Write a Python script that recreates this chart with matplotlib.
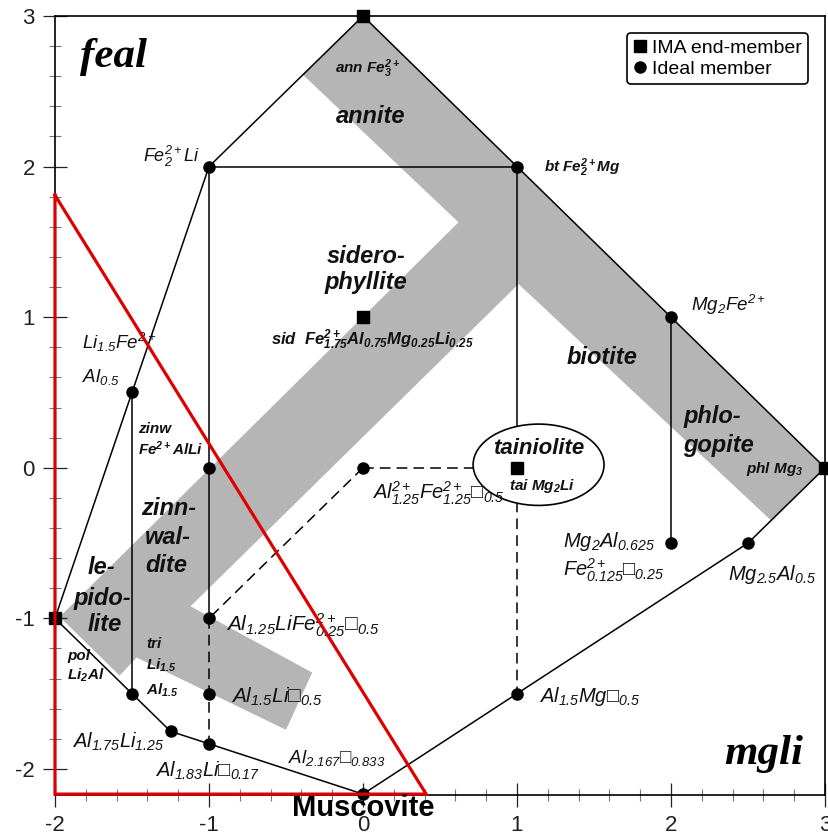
import matplotlib.pyplot as plt
from matplotlib.patches import Polygon, Ellipse
from matplotlib.lines import Line2D
from matplotlib.ticker import MultipleLocator

plt.rcParams['font.family'] = ['Liberation Sans', 'DejaVu Sans']
plt.rcParams['mathtext.fontset'] = 'custom'
plt.rcParams['mathtext.rm'] = 'Liberation Sans:italic'
plt.rcParams['mathtext.it'] = 'Liberation Sans:italic'
plt.rcParams['mathtext.bf'] = 'Liberation Sans:bold:italic'
plt.rcParams['mathtext.default'] = 'it'
plt.rcParams['axes.unicode_minus'] = False

# outer boundary of the feal - mgli field
outline_x = [-2, -1.5, -1, 0, 3, 2.5, 1, 0, -1, -1.25, -1.5, -2]
outline_y = [-1, 0.5, 2, 3, 0, -0.5, -1.5, -2.167, -1.833, -1.75, -1.5, -1]

# IMA end-members (squares) and ideal members (dots)
ima_x = [0, 0, 1, 3, -2]
ima_y = [3, 1, 0, 0, -1]
ideal_x = [-1, 1, 2, -1.5, -1, 0, 2, 2.5, -1, -1, -1.5, -1.25, -1, 0, 1]
ideal_y = [2, 2, 1, 0.5, 0, 0, -0.5, -0.5, -1, -1.5, -1.5, -1.75, -1.833, -2.167, -1.5]

# solid and dashed tie lines between members
solid_ties = [((-1, 1), (2, 2)), ((-1, -1), (2, -1)), ((1, 1), (2, 0)),
              ((-1.5, -1.5), (0.5, -1.5)), ((2, 2), (1, -0.5))]
dashed_ties = [((0, 1), (0, 0)), ((0, -1), (0, -1)), ((-1, -1), (-1, -1.833)),
               ((1, 1), (0, -1.5))]

# gray field of the common trioctahedral micas
field_x = [0, 3, 2.65, 1.01, -1.12, -0.33, -0.50, -1.47, -1.58, -1.97, 0.62, -0.39]
field_y = [3, 0, -0.35, 1.22, -0.92, -1.36, -1.74, -1.26, -1.38, -0.99, 1.63, 2.61]

# highlighted region
red_x = [-2, -2, 0.41]
red_y = [1.81, -2.167, -2.167]

fig = plt.figure(figsize=(8.29, 8.38), dpi=100)
ax = fig.add_axes([55 / 829, 43 / 838, 770 / 829, 779 / 838])
ax.set_xlim(-2, 3)
ax.set_ylim(-2.173, 3)

ax.add_patch(Polygon(list(zip(field_x, field_y)), closed=True,
                     facecolor='#b5b5b5', edgecolor='none', zorder=1))

ax.plot(outline_x, outline_y, color='black', lw=1.1, zorder=2)
for xs, ys in solid_ties:
    ax.plot(xs, ys, color='black', lw=1.1, zorder=2)
for xs, ys in dashed_ties:
    ax.plot(xs, ys, color='black', lw=1.1, ls=(0, (7, 4)), zorder=2)

ax.add_patch(Ellipse((1.14, 0.02), 0.85, 0.54, facecolor='white',
                     edgecolor='black', lw=1.2, zorder=3))

ax.plot(ideal_x, ideal_y, 'o', color='black', markersize=8, zorder=4, clip_on=False)
ax.plot(ima_x, ima_y, 's', color='black', markersize=9, zorder=4, clip_on=False)


def label(x, y, s, size=13, bold=False, ha='left', **kw):
    ax.text(x, y, s, fontsize=size, fontstyle='italic',
            fontweight='bold' if bold else 'normal', ha=ha, va='center',
            color='#111111', zorder=5, **kw)


# corner names
ax.text(-1.617, 2.73, 'feal', fontsize=31, family='Liberation Serif',
        fontstyle='italic', fontweight='bold', ha='center', va='center', zorder=5)
ax.text(2.60, -1.90, 'mgli', fontsize=31, family='Liberation Serif',
        fontstyle='italic', fontweight='bold', ha='center', va='center', zorder=5)

# mica names
label(0.05, 2.33, 'annite', 17, True, ha='center')
label(0.02, 1.40, 'sidero-', 17, True, ha='center')
label(0.02, 1.23, 'phyllite', 17, True, ha='center')
label(1.55, 0.73, 'biotite', 17, True, ha='center')
label(2.08, 0.34, 'phlo-', 17, True)
label(2.08, 0.15, 'gopite', 17, True)
label(1.14, 0.13, 'tainiolite', 16, True, ha='center')
label(-1.264, -0.27, 'zinn-', 17, True, ha='center')
label(-1.27, -0.46, 'wal-', 17, True, ha='center')
label(-1.28, -0.65, 'dite', 17, True, ha='center')
label(-1.70, -0.66, 'le-', 17, True, ha='center')
label(-1.69, -0.865, 'pido-', 17, True, ha='center')
label(-1.68, -1.04, 'lite', 17, True, ha='center')

# end-member formulae
label(0.03, 2.65, r'ann Fe$_{\mathbf{3}}^{\mathbf{2+}}$', 11, True, ha='center')
label(1.176, 1.99, r'bt Fe$_{\mathbf{2}}^{\mathbf{2+}}$Mg', 11, True)
label(-0.60, 0.85, r'sid  Fe$_{\mathbf{1.75}}^{\mathbf{2+}}$Al$_{\mathbf{0.75}}$'
      r'Mg$_{\mathbf{0.25}}$Li$_{\mathbf{0.25}}$', 12, True)
label(2.86, -0.01, r'phl Mg$_{\mathbf{3}}$', 11, True, ha='right')
label(1.165, -0.12, r'tai Mg$_{\mathbf{2}}$Li', 11, True, ha='center')
label(-1.46, 0.255, 'zinw', 11, True)
label(-1.46, 0.125, r'Fe$^{\mathbf{2+}}$AlLi', 11, True)
label(-1.92, -1.25, 'pol', 11, True)
label(-1.92, -1.38, r'Li$_{\mathbf{2}}$Al', 11, True)
label(-1.41, -1.17, 'tri', 11, True)
label(-1.41, -1.31, r'Li$_{\mathbf{1.5}}$', 11, True)
label(-1.41, -1.48, r'Al$_{\mathbf{1.5}}$', 11, True)

# ideal member formulae
label(-1.06, 2.07, r'Fe$_2^{2+}$Li', 13, ha='right')
label(2.13, 1.08, r'Mg$_2$Fe$^{2+}$', 13.5)
label(-1.825, 0.83, r'Li$_{1.5}$Fe$^{2+}$', 13.5)
label(-1.825, 0.60, r'Al$_{0.5}$', 13.5)
label(0.06, -0.17, r'Al$_{1.25}^{2+}$Fe$_{1.25}^{2+}$□$_{0.5}$', 14.5)
label(-0.89, -1.045, r'Al$_{1.25}$LiFe$_{0.25}^{2+}$□$_{0.5}$', 15)
label(-0.86, -1.52, r'Al$_{1.5}$Li□$_{0.5}$', 15)
label(-1.89, -1.82, r'Al$_{1.75}$Li$_{1.25}$', 14.5)
label(-1.35, -2.01, r'Al$_{1.83}$Li□$_{0.17}$', 14.5)
label(-0.49, -1.93, r'Al$_{2.167}$□$_{0.833}$', 13.5)
label(1.14, -1.52, r'Al$_{1.5}$Mg□$_{0.5}$', 14.5)
label(1.30, -0.49, r'Mg$_2$Al$_{0.625}$', 14.5)
label(1.30, -0.68, r'Fe$_{0.125}^{2+}$□$_{0.25}$', 14.5)
label(2.37, -0.71, r'Mg$_{2.5}$Al$_{0.5}$', 14.5)

# highlighted muscovite corner
ax.plot(red_x + red_x[:1], red_y + red_y[:1], color='#dd0000', lw=2.3,
        zorder=6, clip_on=False, solid_joinstyle='miter')
ax.text(0, -2.262, 'Muscovite', fontsize=21, fontweight='bold', ha='center',
        va='center', color='black', zorder=7, clip_on=False)

# axes styling
ax.xaxis.set_major_locator(MultipleLocator(1))
ax.yaxis.set_major_locator(MultipleLocator(1))
ax.xaxis.set_minor_locator(MultipleLocator(0.2))
ax.yaxis.set_minor_locator(MultipleLocator(0.2))
ax.tick_params(which='major', direction='inout', length=17, width=0.9,
               labelsize=16, pad=6, colors='#222222')
ax.tick_params(which='minor', direction='inout', length=8.5, width=0.8,
               color='#777777')
for sp in ax.spines.values():
    sp.set_linewidth(1.2)

handles = [Line2D([], [], marker='s', color='black', ls='none', markersize=9),
           Line2D([], [], marker='o', color='black', ls='none', markersize=8)]
leg = ax.legend(handles, ['IMA end-member', 'Ideal member'], loc='upper right',
                bbox_to_anchor=(0.978, 0.978), borderaxespad=0, fontsize=14,
                handlelength=0.7, handletextpad=0.3, borderpad=0.3,
                labelspacing=0.2, fancybox=True, framealpha=1,
                edgecolor='black')
leg.get_frame().set_linewidth(1.2)
leg.set_zorder(8)

fig.savefig('out.png', dpi=100)
